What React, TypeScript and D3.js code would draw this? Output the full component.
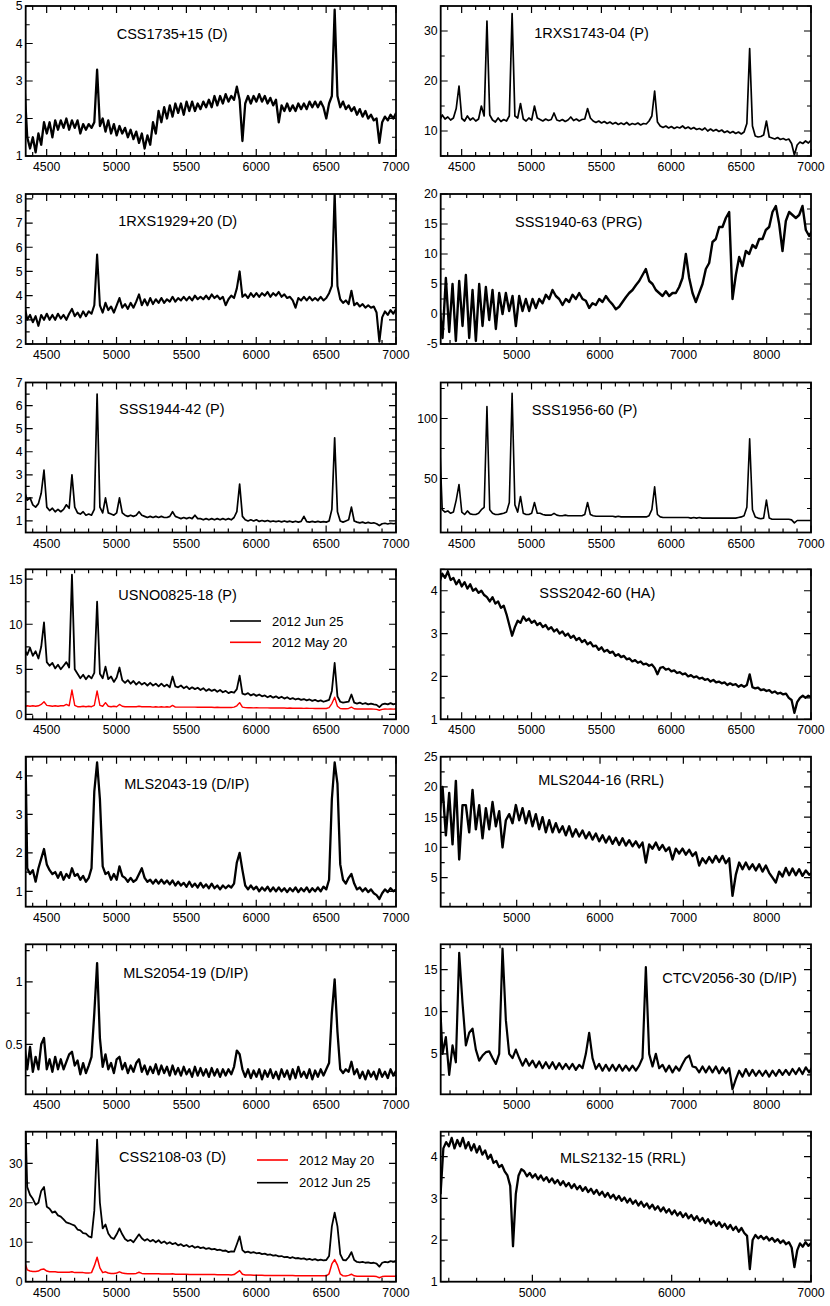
import React from "react";
import * as d3 from "d3";

// Wavelength grids (Å): value i sits at start + i*step
const GRID_A = { start: 4341, step: 20 };
const GRID_B = { start: 4070, step: 40 };

const css1735 = [2.9,1.5,1.2,1.5,1.1,1.6,1.3,1.9,1.6,1.9,
1.5,1.95,1.7,1.95,1.75,2.0,1.7,1.95,1.75,1.95,
1.6,1.85,1.7,1.85,1.75,1.9,3.3,1.8,2.0,1.65,
1.95,1.6,1.85,1.55,1.8,1.6,1.75,1.5,1.7,1.45,
1.65,1.35,1.6,1.2,1.55,1.3,1.9,1.6,2.2,1.9,
2.3,2.0,2.35,2.05,2.4,2.15,2.4,2.1,2.45,2.2,
2.45,2.2,2.4,2.25,2.45,2.3,2.5,2.3,2.6,2.35,
2.6,2.4,2.65,2.45,2.6,2.5,2.85,2.5,1.4,2.4,
2.6,2.4,2.6,2.45,2.65,2.45,2.6,2.4,2.55,2.35,
2.5,1.9,2.35,2.2,2.4,2.2,2.35,2.2,2.4,2.25,
2.4,2.25,2.45,2.3,2.45,2.3,2.45,2.3,2.0,2.4,
2.6,4.9,2.6,2.3,2.45,2.25,2.35,2.2,2.3,2.1,
2.25,2.05,2.2,2.0,2.1,1.95,2.0,1.35,1.9,2.05,
1.95,2.1,2.0,2.15];

const rxs1743 = [12.0,13.2,12.4,12.8,12.2,12.6,14.5,19.0,12.5,12.0,
13.0,12.2,12.6,12.0,12.4,15.0,13.0,32.0,13.2,12.2,
11.8,12.6,11.9,12.3,12.0,13.0,33.5,13.0,12.6,15.5,
12.4,12.0,12.6,12.2,15.0,12.6,12.3,12.0,12.4,12.1,
12.3,13.6,12.2,12.0,12.3,11.9,12.2,12.8,12.1,12.4,
12.0,12.3,12.4,14.5,12.6,12.0,11.7,12.0,11.6,11.9,
11.5,11.8,11.4,11.7,11.3,11.6,11.3,11.7,11.2,11.5,
11.3,11.6,11.2,11.5,11.4,12.0,13.0,18.0,11.8,11.0,
10.7,11.0,10.6,10.9,10.5,10.8,10.6,11.0,10.5,10.8,
10.4,10.7,10.3,10.5,10.2,10.6,10.0,10.4,10.0,10.3,
9.9,10.2,9.7,10.0,9.6,9.9,9.5,9.8,9.4,9.8,
11.5,26.5,11.0,9.0,8.8,8.9,9.2,12.0,8.8,8.6,
8.4,8.7,8.3,8.5,8.2,8.4,7.5,5.2,7.2,7.8,
7.5,8.0,7.6,8.2];

const rxs1929 = [3.6,3.0,3.2,2.9,3.15,2.75,3.2,3.0,3.25,3.0,
3.2,3.0,3.25,3.05,3.2,3.0,3.25,3.45,3.15,3.3,
3.1,3.35,3.15,3.35,3.25,3.6,5.7,3.6,3.3,3.7,
3.4,3.55,3.3,3.6,3.9,3.5,3.65,3.45,3.7,3.5,
3.75,4.05,3.6,3.85,3.6,3.9,3.65,3.85,3.7,3.9,
3.7,3.85,3.75,3.95,3.75,3.9,3.8,3.95,3.8,3.95,
3.8,4.0,3.85,3.95,3.85,4.0,3.85,4.05,3.9,4.0,
3.85,3.95,3.6,3.85,4.0,3.9,4.3,5.0,3.95,4.05,
3.9,4.1,3.95,4.1,3.95,4.1,4.0,4.15,3.95,4.1,
4.0,4.15,3.95,4.05,3.9,3.95,3.8,3.5,3.9,3.8,
3.95,3.8,3.95,3.8,3.9,3.8,3.95,3.8,3.9,4.1,
4.4,8.3,4.4,3.85,3.7,3.8,3.65,4.2,3.6,3.7,
3.55,3.65,3.5,3.6,3.5,3.55,3.3,2.1,3.1,3.35,
3.2,3.4,3.25,3.45];

const sss1940 = [2,-4,6,-3,5,-4.5,5.5,-2,6.5,-4,
4,-4.5,5,-2,4.5,-1,4,-2.5,3.5,0,
3.5,0.5,3,-2,3,0.5,2.5,0.5,2.5,1,
2.5,1.8,3.2,2.5,4,3,2.5,1.5,2.5,2,
3.2,2.5,3.5,2.5,2.2,1.0,1.8,1.5,2.5,2,
3,2.2,1.6,0.8,1.2,2,2.8,3.5,4,4.8,
5.5,6.5,7.5,5.5,5,4,3.5,3,3.8,3,
3.5,3.5,4.5,6,10,6,3.5,2,3.5,5,
7.5,8.5,12,12.5,14.5,14.5,16,17,2.5,6.5,
9.5,8,10.5,10,11.5,11,12.5,12.5,14,14.5,
17,18,15,10.5,15.5,17,16.5,16,16.5,18,
14,13,14];

const sss1944 = [2.3,1.9,2.0,1.7,1.6,1.75,2.2,3.2,1.6,1.45,
1.55,1.4,1.5,1.4,1.5,1.7,1.55,3.0,1.6,1.35,
1.3,1.4,1.25,1.3,1.25,1.5,6.5,1.6,1.35,2.0,
1.35,1.3,1.25,1.35,2.0,1.35,1.25,1.2,1.25,1.2,
1.25,1.4,1.25,1.2,1.15,1.2,1.15,1.2,1.15,1.2,
1.15,1.15,1.2,1.4,1.2,1.15,1.1,1.15,1.1,1.15,
1.1,1.25,1.1,1.1,1.05,1.1,1.05,1.1,1.05,1.1,
1.05,1.1,1.05,1.1,1.05,1.15,1.4,2.6,1.2,1.05,
1.0,1.05,1.0,1.05,0.98,1.02,0.98,1.02,0.97,1.0,
0.97,1.0,0.96,1.0,0.96,0.99,0.95,0.99,0.95,0.98,
1.2,0.97,0.95,0.98,0.95,0.98,0.95,0.97,0.95,1.0,
1.5,4.6,1.4,1.0,0.95,1.0,1.05,1.6,1.0,0.95,
0.92,0.95,0.9,0.94,0.9,0.92,0.88,0.8,0.88,0.9,
0.87,0.9,0.88,0.9];

const sss1956 = [85,24,22,23,21,22,32,45,22,20,
23,20.5,20,20,21,24,26,110,24,21,
20,20,20.5,21,22,30,121,28,22,35,
21,20,20,21,30,21,21,20,19.5,19.5,
19.5,21,19.5,19,19,19.5,19,19,19,19,
19,19,20,30,20,19,18.5,18.5,18.5,18.5,
18.5,18.5,18.5,18,18.5,18,18,18,18,18,
18,18,18,18,18,19,24,43,20,18,
17.5,17.5,17.5,17.5,17.5,17.5,17.5,17.5,17.5,17.5,
17,17.5,17,17.5,17,17,17,17,17,17,
17,17,17,17,17,17,17,17.5,18,19,
26,83,24,18,17,16.5,17,32,17,16,
16,16,16,16,16,16,15.5,13,15,15,
15,15,15,15];

const usnoJun = [7.2,6.6,7.4,6.5,7.0,6.2,7.5,10.2,5.8,5.4,
5.7,5.1,5.5,5.0,5.4,5.8,5.2,15.5,5.0,4.5,
4.0,4.4,3.9,4.3,4.0,4.6,12.5,4.5,4.0,5.3,
3.9,4.2,3.6,4.1,5.2,3.8,3.5,3.8,3.4,3.7,
3.3,3.6,3.3,3.5,3.2,3.5,3.2,3.4,3.1,3.4,
3.1,3.3,3.0,4.2,3.1,3.0,3.2,2.9,3.1,2.8,
3.0,2.8,2.95,2.7,2.9,2.6,2.8,2.6,2.75,2.5,
2.7,2.45,2.6,2.35,2.5,2.4,2.8,4.3,2.3,2.2,
2.35,2.1,2.25,2.05,2.2,2.0,2.1,1.9,2.05,1.85,
2.0,1.8,1.95,1.75,1.9,1.7,1.8,1.65,1.75,1.6,
1.7,1.55,1.65,1.5,1.6,1.45,1.55,1.4,1.5,1.6,
2.6,5.7,2.0,1.4,1.3,1.35,1.4,2.2,1.3,1.2,
1.3,1.15,1.25,1.1,1.2,1.1,1.05,0.8,1.1,1.2,
1.1,1.25,1.1,1.2];

const usnoMay = [0.85,0.95,0.9,0.95,0.9,0.95,1.1,1.4,1.0,0.95,
0.9,0.95,0.9,0.95,0.95,1.1,0.95,2.7,1.0,0.85,
0.85,0.9,0.85,0.9,0.85,1.0,2.6,1.0,0.9,1.3,
0.9,0.85,0.9,0.85,1.1,0.9,0.85,0.85,0.85,0.85,
0.85,0.9,0.85,0.85,0.85,0.85,0.8,0.85,0.8,0.85,
0.8,0.85,0.8,1.0,0.8,0.8,0.8,0.8,0.8,0.8,
0.8,0.8,0.78,0.8,0.78,0.78,0.78,0.78,0.76,0.78,
0.76,0.76,0.76,0.76,0.76,0.8,0.95,1.3,0.8,0.75,
0.74,0.74,0.72,0.74,0.72,0.72,0.72,0.72,0.7,0.72,
0.7,0.7,0.7,0.7,0.68,0.7,0.68,0.68,0.68,0.68,
0.66,0.68,0.66,0.66,0.65,0.66,0.65,0.65,0.65,0.75,
1.2,1.9,0.9,0.65,0.62,0.62,0.65,0.8,0.62,0.6,
0.6,0.6,0.6,0.6,0.6,0.58,0.55,0.45,0.55,0.6,
0.58,0.6,0.58,0.6];

const sss2042 = [4.2,4.4,4.3,4.45,4.25,4.3,4.15,4.25,4.1,4.2,
4.05,4.15,4.0,4.05,3.95,4.0,3.9,3.85,3.75,3.85,
3.7,3.75,3.6,3.65,3.45,3.2,2.95,3.15,3.3,3.25,
3.4,3.3,3.35,3.25,3.3,3.2,3.25,3.15,3.2,3.1,
3.15,3.05,3.1,3.0,3.05,2.95,3.0,2.9,2.95,2.85,
2.9,2.8,2.85,2.75,2.8,2.7,2.72,2.62,2.68,2.58,
2.62,2.55,2.58,2.48,2.52,2.45,2.48,2.4,2.42,2.35,
2.38,2.32,2.35,2.28,2.3,2.25,2.28,2.2,2.05,2.2,
2.22,2.16,2.18,2.12,2.14,2.08,2.1,2.05,2.07,2.0,
2.03,1.98,2.0,1.95,1.97,1.92,1.94,1.88,1.92,1.86,
1.88,1.84,1.86,1.8,1.84,1.8,1.82,1.76,1.8,1.76,
1.8,2.05,1.75,1.72,1.74,1.68,1.7,1.66,1.68,1.62,
1.65,1.6,1.62,1.58,1.6,1.5,1.45,1.15,1.4,1.5,
1.55,1.5,1.55,1.52];

const mls2043 = [6.3,1.6,1.45,1.55,1.25,1.6,1.85,2.1,1.7,1.55,
1.45,1.5,1.35,1.5,1.3,1.45,1.35,1.6,1.4,1.45,
1.3,1.4,1.25,1.35,1.6,3.6,4.35,3.4,1.65,1.45,
1.5,1.3,1.45,1.3,1.65,1.4,1.35,1.25,1.35,1.25,
1.3,1.45,1.6,1.35,1.25,1.3,1.2,1.3,1.2,1.3,
1.2,1.28,1.18,1.28,1.15,1.25,1.15,1.22,1.12,1.25,
1.12,1.2,1.1,1.22,1.1,1.18,1.08,1.2,1.08,1.15,
1.05,1.15,1.08,1.15,1.1,1.2,1.75,2.0,1.55,1.15,
1.05,1.15,1.05,1.12,1.0,1.1,1.02,1.12,1.0,1.1,
1.0,1.1,1.0,1.08,0.98,1.08,1.0,1.1,0.98,1.08,
1.0,1.1,0.98,1.08,1.0,1.1,1.0,1.12,1.05,1.3,
3.4,4.35,3.8,1.7,1.3,1.2,1.35,1.45,1.2,1.05,
1.1,1.0,1.08,0.98,1.05,0.95,0.9,0.8,0.95,1.05,
0.98,1.08,1.0,1.05];

const mls2044 = [15,20,12,19,10.5,21,8,17,17,12.5,
19.5,13,17,11.5,16.5,13,17.5,13.5,16,10,
14.5,15.5,14,17,14.5,16.5,14,16,13.5,15.5,
13,15,12.5,14.5,12.5,14,12.5,13.5,12,13.5,
11.8,13,11.8,12.8,11.5,12.5,11.3,12.3,11,12,
10.8,11.8,10.6,11.6,10.4,11.5,10.3,11.2,10.2,11,
10,10.8,7.5,10.5,9.8,10.8,9.6,10.4,9.4,10,
8,9.8,9,9.8,8.8,9.6,8.6,9.2,7,8.2,
7.4,8.4,7.5,8.6,7.6,8.6,7.4,8.2,2,5.5,
7.5,6.4,7.5,6.4,7.2,6.2,7.2,6,7,5.8,
5,4.2,6,5.2,6.6,5.4,6.5,5.4,6.4,5.3,
6.2,5.5,5.8];

const mls2054 = [0.5,0.3,0.48,0.28,0.4,0.3,0.5,0.55,0.3,0.38,
0.28,0.4,0.3,0.38,0.3,0.36,0.42,0.44,0.33,0.37,
0.26,0.35,0.27,0.33,0.4,0.75,1.15,0.55,0.32,0.42,
0.3,0.35,0.27,0.38,0.4,0.3,0.35,0.27,0.33,0.28,
0.35,0.38,0.28,0.33,0.26,0.32,0.27,0.34,0.26,0.33,
0.27,0.32,0.25,0.33,0.26,0.31,0.25,0.32,0.26,0.3,
0.24,0.32,0.25,0.31,0.25,0.3,0.24,0.31,0.25,0.3,
0.24,0.3,0.25,0.3,0.26,0.32,0.45,0.42,0.3,0.24,
0.3,0.23,0.29,0.24,0.3,0.22,0.29,0.24,0.3,0.23,
0.28,0.22,0.3,0.24,0.29,0.22,0.3,0.23,0.32,0.24,
0.28,0.23,0.3,0.22,0.29,0.24,0.3,0.25,0.3,0.35,
0.75,1.02,0.6,0.3,0.27,0.3,0.28,0.36,0.26,0.3,
0.23,0.28,0.22,0.29,0.24,0.28,0.22,0.3,0.24,0.28,
0.23,0.3,0.25,0.29];

const ctcv2056 = [13,5,7,2.5,6,4,17,11,6,7.5,
8,5.5,4.2,4.8,5.2,5.3,4.5,3.8,5,17.5,
9,5,4.5,5.5,4.5,3.6,4.4,3.6,4.2,3.4,
4.1,3.3,4,3.3,4,3.2,3.9,3.2,3.8,3.2,
3.8,3.1,3.7,3.3,5,7.5,4.5,3.2,3.8,3,
3.7,3,3.7,3,3.7,3,3.6,3,3.6,3,
3.6,4.5,15.3,5,3.5,5,3.3,3.7,2.9,3.6,
2.8,3.5,3,3.8,4.5,4.8,3.5,3.4,2.8,3.5,
2.8,3.5,2.8,3.5,2.7,3.4,2.7,3.3,0.8,2,
3,2.3,3.2,2.4,3.1,2.4,3,2.4,3,2.3,
3,2.4,3.1,2.5,3.1,2.5,3.2,2.6,3.3,2.6,
3.4,2.8,3.5];

const css2108Jun = [50,24,22,21,19.5,20,23,24,19,18.5,
17.5,17.8,16.8,16.5,15.8,15,14.8,14.5,14.2,13.2,
13,12.3,12.2,11.5,11.2,18,36,20,13.5,14.5,
12.2,11.2,10.8,12,13.5,12,10.8,10.3,10.6,10,
11,12,11,10.4,10.8,10.2,10.6,10,10.5,9.8,
10.2,9.6,10,9.5,9.8,9.2,9.5,9,9.3,8.8,
9.1,8.6,8.9,8.5,8.7,8.3,8.5,8.2,8.3,8,
8.1,7.8,7.9,7.5,7.7,7.6,9.5,11.5,8,7.4,
7.6,7.3,7.5,7.2,7.3,7.0,7.1,6.8,6.9,6.6,
6.7,6.4,6.5,6.2,6.3,6.0,6.2,5.9,6.0,5.8,
5.9,5.6,5.8,5.5,5.7,5.4,5.6,5.4,5.5,6.5,
14,17.5,14,7,5.5,5.4,6.2,7.5,5.5,5,
4.9,5,4.8,4.9,4.7,4.8,4.6,3.8,4.8,5,
4.9,5.2,5.1,5.3];

const css2108May = [5.2,3.0,2.7,2.6,2.6,2.7,3.1,3.2,2.7,2.5,
2.5,2.5,2.4,2.4,2.4,2.4,2.4,2.5,2.3,2.3,
2.3,2.3,2.2,2.2,2.3,4,6.2,3.5,2.3,2.5,
2.2,2.1,2.1,2.2,2.5,2.2,2.1,2.0,2.0,2.0,
2.1,2.4,2.1,2.0,2.0,2.0,2.0,2.0,2.0,1.95,
1.95,1.95,1.95,2.0,1.9,1.9,1.9,1.9,1.9,1.85,
1.85,1.85,1.85,1.8,1.8,1.8,1.8,1.8,1.8,1.75,
1.75,1.75,1.75,1.75,1.7,1.8,2.3,2.8,1.9,1.7,
1.7,1.7,1.65,1.65,1.65,1.65,1.6,1.6,1.6,1.6,
1.6,1.6,1.55,1.55,1.55,1.55,1.55,1.5,1.5,1.5,
1.5,1.5,1.5,1.5,1.5,1.5,1.5,1.5,1.5,2.0,
4.5,5.6,4.2,2.0,1.5,1.45,1.6,1.9,1.5,1.4,
1.4,1.4,1.4,1.4,1.4,1.35,1.3,1.0,1.3,1.35,
1.35,1.4,1.4,1.4];

const mls2132 = [3.1,4.2,4.35,4.25,4.45,4.2,4.4,4.25,4.45,4.2,
4.35,4.15,4.3,4.1,4.25,4.05,4.15,3.95,4.05,3.85,
3.9,3.75,3.8,3.65,3.55,3.3,1.85,3.1,3.55,3.7,
3.65,3.53,3.61,3.50,3.58,3.46,3.55,3.43,3.51,3.39,
3.48,3.36,3.44,3.32,3.41,3.29,3.37,3.25,3.34,3.22,
3.30,3.18,3.27,3.15,3.23,3.11,3.20,3.08,3.16,3.04,
3.13,3.01,3.09,2.97,3.06,2.94,3.02,2.90,2.99,2.87,
2.95,2.83,2.92,2.80,2.88,2.76,2.85,2.73,2.81,2.69,
2.78,2.66,2.74,2.62,2.71,2.59,2.67,2.55,2.64,2.52,
2.60,2.48,2.57,2.45,2.53,2.41,2.50,2.38,2.46,2.34,
2.43,2.31,2.39,2.27,2.36,2.24,2.32,2.20,2.29,2.17,
2.1,1.3,2.0,2.12,2.04,2.1,2.02,2.08,1.99,2.05,
1.96,2.02,1.93,1.99,1.9,1.95,1.82,1.35,1.75,1.92,
1.84,1.95,1.86,1.93];

const titles = [
  "CSS1735+15 (D)", "1RXS1743-04 (P)",
  "1RXS1929+20 (D)", "SSS1940-63 (PRG)",
  "SSS1944-42 (P)", "SSS1956-60 (P)",
  "USNO0825-18 (P)", "SSS2042-60 (HA)",
  "MLS2043-19 (D/IP)", "MLS2044-16 (RRL)",
  "MLS2054-19 (D/IP)", "CTCV2056-30 (D/IP)",
  "CSS2108-03 (D)", "MLS2132-15 (RRL)",
];

const legendUSNO = ["2012 Jun 25", "2012 May 20"];
const legendCSS = ["2012 May 20", "2012 Jun 25"];

// layout
const COL_X = [25.7, 440.7];
const PANEL_W = 370.3;
const ROW_Y = [6, 194, 382.5, 569.3, 756.7, 944.3, 1131.7];
const PANEL_H = 150;

type Grid = { start: number; step: number };
type Series = { values: number[]; grid: Grid; color: string; width: number };
type Legend = { x: number; y: number; gap: number; items: { label: string; color: string }[] };
type Panel = {
  title: string; tx: number; ty: number;
  xDomain: [number, number]; yDomain: [number, number];
  xMajor: number; xMinor: number; yMajor: number; yMinor: number;
  series: Series[]; legend?: Legend;
};

const STD_X: [number, number] = [4350, 7000];
const WIDE_X: [number, number] = [4088, 8532];
const BLACK = "#000000";
const RED = "#ff0000";

const panels: Panel[] = [
  { title: titles[0], tx: 91, ty: 33, xDomain: STD_X, yDomain: [1, 5], xMajor: 500, xMinor: 100, yMajor: 1, yMinor: 0.5,
    series: [{ values: css1735, grid: GRID_A, color: BLACK, width: 2.3 }] },
  { title: titles[1], tx: 93.6, ty: 31.7, xDomain: STD_X, yDomain: [5, 35], xMajor: 500, xMinor: 100, yMajor: 10, yMinor: 5,
    series: [{ values: rxs1743, grid: GRID_A, color: BLACK, width: 1.7 }] },
  { title: titles[2], tx: 92.6, ty: 32, xDomain: STD_X, yDomain: [2, 8.2], xMajor: 500, xMinor: 100, yMajor: 1, yMinor: 0.5,
    series: [{ values: rxs1929, grid: GRID_A, color: BLACK, width: 2.1 }] },
  { title: titles[3], tx: 74.3, ty: 32.7, xDomain: WIDE_X, yDomain: [-5, 20], xMajor: 1000, xMinor: 200, yMajor: 5, yMinor: 2.5,
    series: [{ values: sss1940, grid: GRID_B, color: BLACK, width: 2.4 }] },
  { title: titles[4], tx: 93.3, ty: 31, xDomain: STD_X, yDomain: [0.5, 7], xMajor: 500, xMinor: 100, yMajor: 1, yMinor: 0.5,
    series: [{ values: sss1944, grid: GRID_A, color: BLACK, width: 1.7 }] },
  { title: titles[5], tx: 91, ty: 32.3, xDomain: STD_X, yDomain: [5, 130], xMajor: 500, xMinor: 100, yMajor: 50, yMinor: 25,
    series: [{ values: sss1956, grid: GRID_A, color: BLACK, width: 1.6 }] },
  { title: titles[6], tx: 92.6, ty: 30.7, xDomain: STD_X, yDomain: [-0.55, 16.1], xMajor: 500, xMinor: 100, yMajor: 5, yMinor: 2.5,
    series: [{ values: usnoMay, grid: GRID_A, color: RED, width: 1.4 }, { values: usnoJun, grid: GRID_A, color: BLACK, width: 1.8 }],
    legend: { x: 204.3, y: 51.7, gap: 21.3, items: [{ label: legendUSNO[0], color: BLACK }, { label: legendUSNO[1], color: RED }] } },
  { title: titles[7], tx: 98.6, ty: 29, xDomain: STD_X, yDomain: [1, 4.5], xMajor: 500, xMinor: 100, yMajor: 1, yMinor: 0.5,
    series: [{ values: sss2042, grid: GRID_A, color: BLACK, width: 2.3 }] },
  { title: titles[8], tx: 98.6, ty: 32.6, xDomain: STD_X, yDomain: [0.6, 4.5], xMajor: 500, xMinor: 100, yMajor: 1, yMinor: 0.5,
    series: [{ values: mls2043, grid: GRID_A, color: BLACK, width: 2.3 }] },
  { title: titles[9], tx: 97.6, ty: 28.3, xDomain: WIDE_X, yDomain: [0.2, 25], xMajor: 1000, xMinor: 200, yMajor: 5, yMinor: 2.5,
    series: [{ values: mls2044, grid: GRID_B, color: BLACK, width: 2.4 }] },
  { title: titles[10], tx: 97.6, ty: 34, xDomain: STD_X, yDomain: [0.1, 1.3], xMajor: 500, xMinor: 100, yMajor: 0.5, yMinor: 0.25,
    series: [{ values: mls2054, grid: GRID_A, color: BLACK, width: 2.3 }] },
  { title: titles[11], tx: 221.6, ty: 39, xDomain: WIDE_X, yDomain: [0.2, 18], xMajor: 1000, xMinor: 200, yMajor: 5, yMinor: 2.5,
    series: [{ values: ctcv2056, grid: GRID_B, color: BLACK, width: 2.2 }] },
  { title: titles[12], tx: 93.3, ty: 30, xDomain: STD_X, yDomain: [0, 38], xMajor: 500, xMinor: 100, yMajor: 10, yMinor: 5,
    series: [{ values: css2108May, grid: GRID_A, color: RED, width: 1.5 }, { values: css2108Jun, grid: GRID_A, color: BLACK, width: 1.8 }],
    legend: { x: 231.3, y: 28.3, gap: 22.7, items: [{ label: legendCSS[0], color: RED }, { label: legendCSS[1], color: BLACK }] } },
  { title: titles[13], tx: 119.3, ty: 31, xDomain: [4342, 7000], yDomain: [1, 4.6], xMajor: 1000, xMinor: 200, yMajor: 1, yMinor: 0.5,
    series: [{ values: mls2132, grid: GRID_A, color: BLACK, width: 2.3 }] },
];

const FONT = "'Liberation Sans', Arial, Helvetica, sans-serif";

function tickValues(domain: [number, number], step: number): number[] {
  const lo = Math.min(domain[0], domain[1]);
  const hi = Math.max(domain[0], domain[1]);
  const eps = step * 1e-6;
  const first = Math.ceil((lo - eps) / step);
  const last = Math.floor((hi + eps) / step);
  const out: number[] = [];
  for (let k = first; k <= last; k++) out.push(+(k * step).toFixed(6));
  return out;
}

function isMultiple(v: number, step: number) {
  const r = v / step;
  return Math.abs(r - Math.round(r)) < 1e-6;
}

const fmt = (v: number) => String(+v.toFixed(6));

function PanelView({ p, idx }: { p: Panel; idx: number }) {
  const col = idx % 2;
  const row = Math.floor(idx / 2);
  const x0 = COL_X[col];
  const y0 = ROW_Y[row];
  const x = d3.scaleLinear().domain(p.xDomain).range([0, PANEL_W]);
  const y = d3.scaleLinear().domain(p.yDomain).range([PANEL_H, 0]);
  const clipId = `clip-${idx}`;

  const xMaj = tickValues(p.xDomain, p.xMajor);
  const xMin = tickValues(p.xDomain, p.xMinor).filter((v) => !isMultiple(v, p.xMajor));
  const yMaj = tickValues(p.yDomain, p.yMajor);
  const yMin = tickValues(p.yDomain, p.yMinor).filter((v) => !isMultiple(v, p.yMajor));

  const MAJ = 7, MIN = 4;
  const tickPath: string[] = [];
  xMaj.forEach((v) => { const px = x(v); tickPath.push(`M${px},${PANEL_H}v${-MAJ}M${px},0v${MAJ}`); });
  xMin.forEach((v) => { const px = x(v); tickPath.push(`M${px},${PANEL_H}v${-MIN}M${px},0v${MIN}`); });
  yMaj.forEach((v) => { const py = y(v); tickPath.push(`M0,${py}h${MAJ}M${PANEL_W},${py}h${-MAJ}`); });
  yMin.forEach((v) => { const py = y(v); tickPath.push(`M0,${py}h${MIN}M${PANEL_W},${py}h${-MIN}`); });

  const line = (s: Series) =>
    d3.line<number>()
      .x((_, i) => x(s.grid.start + i * s.grid.step))
      .y((d) => y(d))(s.values) || "";

  return (
    <g transform={`translate(${x0},${y0})`}>
      <defs>
        <clipPath id={clipId}>
          <rect x={0} y={0} width={PANEL_W} height={PANEL_H} />
        </clipPath>
      </defs>
      <g clipPath={`url(#${clipId})`}>
        {p.series.map((s, i) => (
          <path key={i} d={line(s)} fill="none" stroke={s.color} strokeWidth={s.width} strokeLinejoin="round" />
        ))}
      </g>
      <path d={tickPath.join("")} stroke="#000" strokeWidth={1.2} fill="none" />
      <rect x={0} y={0} width={PANEL_W} height={PANEL_H} fill="none" stroke="#000" strokeWidth={1.8} />
      {xMaj.map((v) => (
        <text key={`xl${v}`} x={x(v)} y={PANEL_H + 15} textAnchor="middle" fontSize={12.3} fontFamily={FONT} fill="#000">
          {fmt(v)}
        </text>
      ))}
      {yMaj.map((v) => (
        <text key={`yl${v}`} x={-3} y={y(v)} dy="0.36em" textAnchor="end" fontSize={12.3} fontFamily={FONT} fill="#000">
          {fmt(v)}
        </text>
      ))}
      <text x={p.tx} y={p.ty} fontSize={14.5} fontFamily={FONT} fill="#000">{p.title}</text>
      {p.legend &&
        p.legend.items.map((it, i) => (
          <g key={it.label} transform={`translate(${p.legend!.x},${p.legend!.y + i * p.legend!.gap})`}>
            <line x1={0} x2={31} y1={0} y2={0} stroke={it.color} strokeWidth={1.6} />
            <text x={42} y={0} dy="0.36em" fontSize={13} fontFamily={FONT} fill="#000">{it.label}</text>
          </g>
        ))}
    </g>
  );
}

export default function App() {
  return (
    <svg
      width={830}
      height={1306}
      viewBox="0 0 830 1306"
      style={{ position: "absolute", left: 0, top: 0, background: "#fff" }}
    >
      <rect x={0} y={0} width={830} height={1306} fill="#fff" />
      {panels.map((p, i) => (
        <PanelView key={i} p={p} idx={i} />
      ))}
    </svg>
  );
}
